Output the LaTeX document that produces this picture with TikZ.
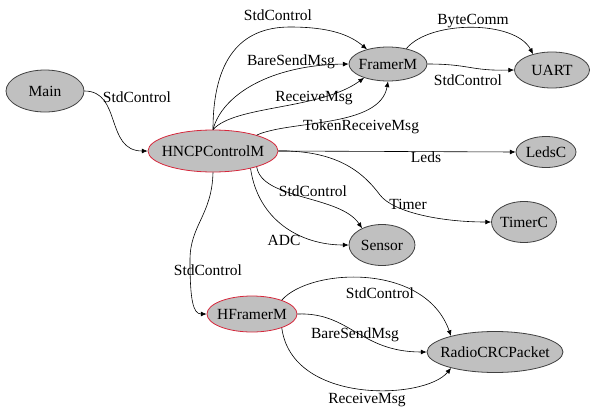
\documentclass[tikz,border=0pt]{standalone}
\usepackage{fontspec}
\setmainfont{Liberation Serif}
\usepackage{tikz}
\usetikzlibrary{shapes.geometric,arrows.meta}
\usepackage{xcolor}
\definecolor{compgray}{RGB}{192,192,192}
\definecolor{modred}{RGB}{214,40,60}

\begin{document}
\begin{tikzpicture}[
    x=1pt, y=-1pt,
    font=\fontsize{15.5}{18}\selectfont,
    comp/.style={draw=black!75, line width=0.8pt, ellipse, fill=compgray, inner sep=-20pt},
    modl/.style={comp, draw=modred},
    line/.style={-{Latex[length=2mm, width=1.7mm]}, line width=0.6pt},
    lbl/.style={inner sep=0pt}
]
\useasboundingbox (0,0) rectangle (590,410);

\node[comp, minimum width=78pt, minimum height=42pt] (main) at (45,91) {Main};
\node[modl, minimum width=130pt, minimum height=42pt] (hncp) at (213,151) {HNCPControlM};
\node[comp, minimum width=78pt, minimum height=34pt] (framer) at (388,64) {FramerM};
\node[comp, minimum width=75pt, minimum height=36pt] (uart) at (552,70) {UART};
\node[comp, minimum width=60pt, minimum height=31pt] (ledsc) at (546,152) {LedsC};
\node[comp, minimum width=65pt, minimum height=41pt] (timerc) at (524,222) {TimerC};
\node[comp, minimum width=66pt, minimum height=41pt] (sensor) at (382,245) {Sensor};
\node[modl, minimum width=90pt, minimum height=36pt] (hframer) at (252,314) {HFramerM};
\node[comp, minimum width=136pt, minimum height=41pt] (radio) at (495,352) {RadioCRCPacket};

\draw[line] (main.east) .. controls (122,91) and (105,151) .. (hncp.west) node[lbl] at (137,97) {StdControl};

% HNCPControlM to FramerM
\draw[line] (hncp.north) .. controls (213,60) and (240,27) .. (290,27) .. controls (330,27) and (350,35) .. (framer.145) node[lbl] at (278,15) {StdControl};
\draw[line] (hncp.north) .. controls (222,95) and (270,65) .. (framer.west) node[lbl] at (291,62) {BareSendMsg};
\draw[line] (hncp.north) .. controls (235,105) and (320,110) .. (framer.210) node[lbl] at (314,98) {ReceiveMsg};
\draw[line] (hncp.20) .. controls (290,120) and (380,128) .. (framer.south) node[lbl] at (361,127) {TokenReceiveMsg};

% FramerM to UART
\draw[line] (framer.40) .. controls (430,20) and (515,20) .. (uart.140) node[lbl] at (473,21) {ByteComm};
\draw[line] (framer.east) .. controls (470,64) and (470,71) .. (uart.west) node[lbl] at (468,80) {StdControl};

\draw[line] (hncp.east) -- (ledsc.west) node[lbl] at (426,157) {Leds};
\draw[line] (hncp.east) .. controls (340,150) and (365,175) .. (380,195) .. controls (393,212) and (440,222) .. (timerc.west) node[lbl] at (408,204) {Timer};

% sensor
\draw[line] (hncp.-20) .. controls (262,200) and (340,195) .. (sensor.140) node[lbl] at (313,191) {StdControl};
\draw[line] (hncp.-25) .. controls (258,220) and (300,245) .. (sensor.west) node[lbl] at (284,240) {ADC};

\draw[line] (hncp.south) .. controls (212,215) and (190,225) .. (190,260) .. controls (190,300) and (193,314) .. (hframer.west) node[lbl] at (208,270) {StdControl};

% HFramerM to RadioCRCPacket
\draw[line] (hframer.25) .. controls (310,268) and (425,262) .. (radio.160) node[lbl] at (380,293) {StdControl};
\draw[line] (hframer.east) .. controls (350,312) and (360,352) .. (radio.west) node[lbl] at (355,335) {BareSendMsg};
\draw[line] (hframer.-25) .. controls (292,405) and (425,400) .. (radio.-160) node[lbl] at (367,400) {ReceiveMsg};
\end{tikzpicture}
\end{document}
